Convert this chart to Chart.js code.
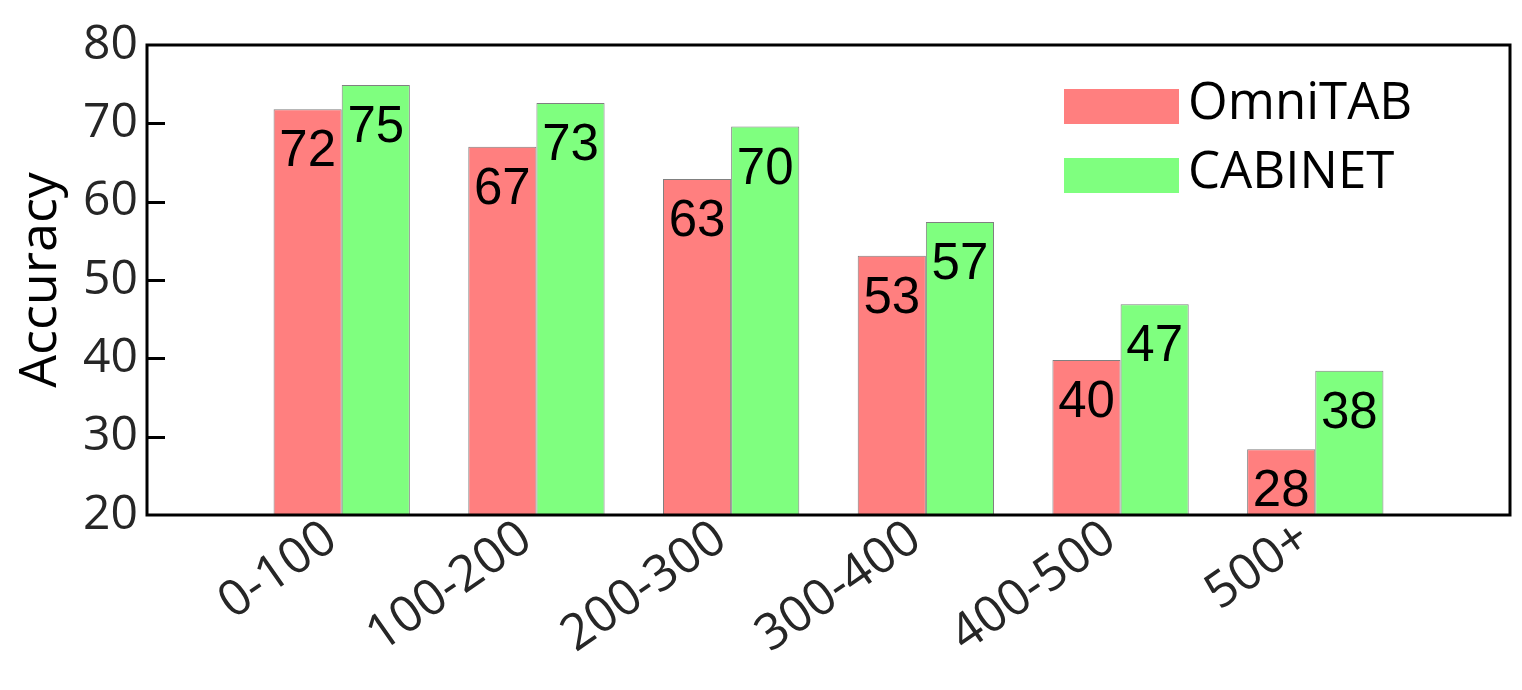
<!DOCTYPE html>
<html><head><meta charset="utf-8">
<script src="https://cdn.jsdelivr.net/npm/chart.js@4.4.1/dist/chart.umd.min.js"></script>
<style>html,body{margin:0;padding:0;background:#fff;} #wrap{width:1522px;height:690px;position:relative;}</style>
</head><body><div id="wrap"><canvas id="c" width="1522" height="690"></canvas></div>
<script>
const categories = ['0-100', '100-200', '200-300', '300-400', '400-500', '500+'];
const omnitab = [71.8, 67.0, 62.9, 53.1, 39.8, 28.4];
const cabinet = [74.9, 72.6, 69.6, 57.4, 46.9, 38.4];
const seriesNames = ['OmniTAB', 'CABINET'];
const seriesColors = ['#ff7f7f', '#7fff7f'];
const yTicks = [20, 30, 40, 50, 60, 70, 80];

// pad the category axis with one empty slot at each side
const xLabels = [''].concat(categories, ['']);
const pad = arr => [null].concat(arr, [null]);

const framePlugin = {
  id: 'frame',
  afterDatasetsDraw(chart) {
    const ctx = chart.ctx, a = chart.chartArea, y = chart.scales.y;
    ctx.save();
    // value labels
    ctx.fillStyle = '#000';
    ctx.font = '51px "Liberation Sans", Arial, sans-serif';
    ctx.textAlign = 'center';
    ctx.textBaseline = 'middle';
    chart.data.datasets.forEach((ds, di) => {
      const meta = chart.getDatasetMeta(di);
      meta.data.forEach((el, i) => {
        const v = ds.data[i];
        if (v === null || v === undefined) return;
        ctx.fillText(String(Math.round(v)), el.x, el.y + 43);
      });
    });
    // inner tick marks
    ctx.strokeStyle = '#000';
    ctx.lineWidth = 3;
    yTicks.forEach(t => {
      if (t === y.min || t === y.max) return;
      const py = Math.round(y.getPixelForValue(t)) + 0.5;
      ctx.beginPath();
      ctx.moveTo(a.left, py);
      ctx.lineTo(a.left + 18, py);
      ctx.stroke();
    });
    // frame
    ctx.strokeRect(a.left, a.top, a.right - a.left, a.bottom - a.top);
    // legend
    ctx.font = '51px "Open Sans", sans-serif';
    ctx.textAlign = 'left';
    const boxL = a.right - 446, boxW = 115, boxH = 35;
    const boxTops = [89, 158];
    seriesNames.forEach((name, i) => {
      ctx.fillStyle = seriesColors[i];
      ctx.fillRect(boxL, boxTops[i], boxW, boxH);
      ctx.fillStyle = '#000';
      ctx.fillText(name, boxL + boxW + 9, boxTops[i] + boxH / 2 - 2);
    });
    ctx.restore();
  }
};

new Chart(document.getElementById('c'), {
  type: 'bar',
  data: {
    labels: xLabels,
    datasets: [
      { label: seriesNames[0], data: pad(omnitab), backgroundColor: seriesColors[0], borderColor: '#808080', borderWidth: 1, categoryPercentage: 0.7, barPercentage: 1 },
      { label: seriesNames[1], data: pad(cabinet), backgroundColor: seriesColors[1], borderColor: '#808080', borderWidth: 1, categoryPercentage: 0.7, barPercentage: 1 }
    ]
  },
  options: {
    responsive: false,
    animation: false,
    layout: { padding: { top: 45, right: 12, left: 0, bottom: 0 } },
    plugins: { legend: { display: false }, tooltip: { enabled: false } },
    scales: {
      x: {
        offset: false,
        grid: { display: false, drawTicks: false },
        border: { display: false },
        ticks: { autoSkip: false, maxRotation: 35, minRotation: 35, color: '#262626', padding: -6, labelOffset: -10,
                 font: { family: 'Open Sans', size: 50 } },
        afterFit(s) { s.height = 175; s.paddingLeft = 0; s.paddingRight = 0; }
      },
      y: {
        min: 20, max: 80,
        afterBuildTicks(s) { s.ticks = yTicks.map(v => ({ value: v })); },
        grid: { display: false, drawTicks: false },
        border: { display: false },
        ticks: { color: '#262626', padding: 9, font: { family: 'Open Sans', size: 48 } },
        title: { display: true, text: 'Accuracy', color: '#000', padding: { top: 10, bottom: 0 },
                 font: { family: 'Open Sans', size: 52 } },
        afterFit(s) { s.width = 147; s.paddingTop = 0; s.paddingBottom = 0; }
      }
    }
  },
  plugins: [framePlugin]
});
</script></body></html>
